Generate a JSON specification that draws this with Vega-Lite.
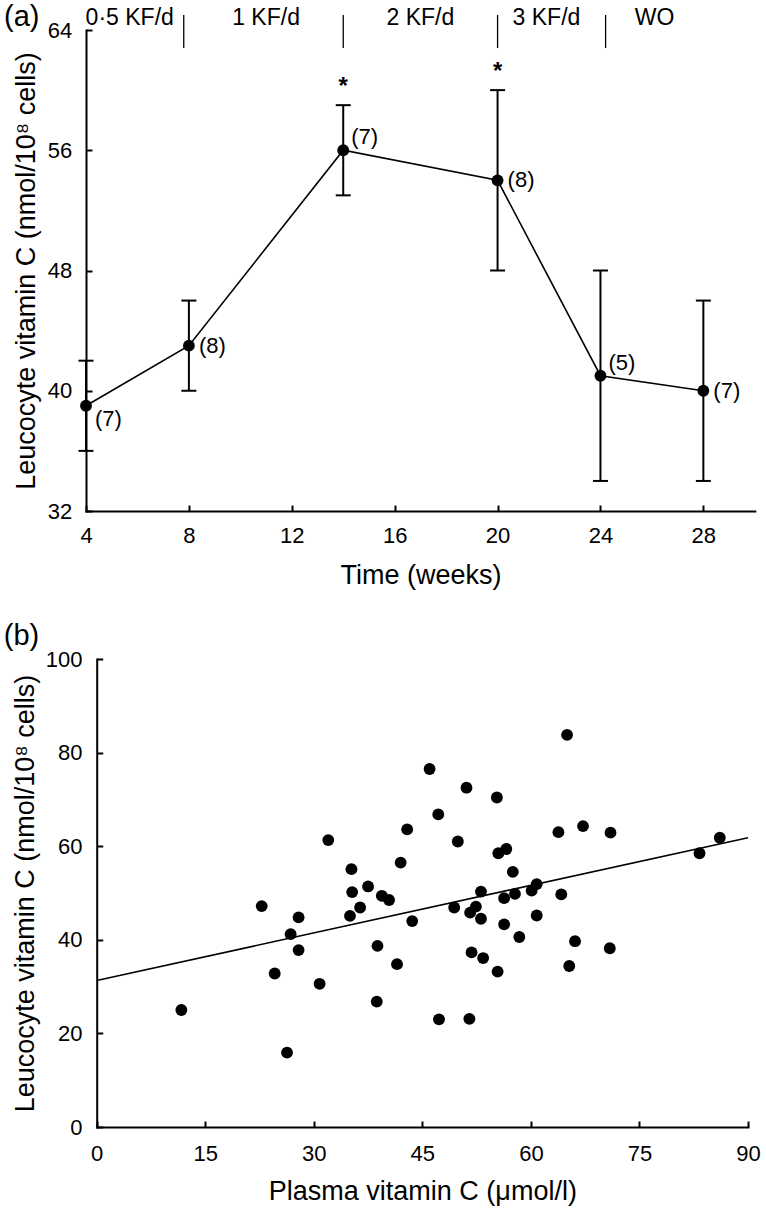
{
  "$schema": "https://vega.github.io/schema/vega-lite/v6.json",
  "width": 766,
  "height": 1213,
  "autosize": {"type": "none"},
  "padding": 0,
  "background": "white",
  "config": {
    "view": {"stroke": null},
    "font": "Liberation Sans",
    "axis": {
      "domainColor": "black", "domainWidth": 2, "domainCap": "square",
      "tickColor": "black", "tickWidth": 2, "tickSize": -6,
      "labelColor": "black", "titleColor": "black",
      "labelFont": "Liberation Sans", "titleFont": "Liberation Sans",
      "labelFontSize": 22, "titleFontSize": 27, "titleFontWeight": "normal",
      "grid": false, "labelOverlap": false, "labelFlush": false
    }
  },
  "datasets": {
    "weekly": [
      {"week": 4, "mean": 39, "lo": 36, "hi": 42, "n": "(7)", "sig": false},
      {"week": 8, "mean": 43, "lo": 40, "hi": 46, "n": "(8)", "sig": false},
      {"week": 14, "mean": 56, "lo": 53, "hi": 59, "n": "(7)", "sig": true},
      {"week": 20, "mean": 54, "lo": 48, "hi": 60, "n": "(8)", "sig": true},
      {"week": 24, "mean": 41, "lo": 34, "hi": 48, "n": "(5)", "sig": false},
      {"week": 28, "mean": 40, "lo": 34, "hi": 46, "n": "(7)", "sig": false}
    ],
    "phases": [
      {"mid": 5.7, "phase": "0·5 KF/d"},
      {"mid": 11.0, "phase": "1 KF/d"},
      {"mid": 17.0, "phase": "2 KF/d"},
      {"mid": 21.9, "phase": "3 KF/d"},
      {"mid": 26.1, "phase": "WO"}
    ],
    "dividers": [{"edge": 7.8}, {"edge": 14}, {"edge": 20}, {"edge": 24.2}],
    "scatter": [
      {"plasma": 11.7, "leuco": 25.0}, {"plasma": 26.3, "leuco": 15.9}, {"plasma": 22.8, "leuco": 47.2},
      {"plasma": 24.6, "leuco": 32.8}, {"plasma": 26.8, "leuco": 41.2}, {"plasma": 27.9, "leuco": 44.8},
      {"plasma": 27.9, "leuco": 37.8}, {"plasma": 30.8, "leuco": 30.6}, {"plasma": 32.0, "leuco": 61.3},
      {"plasma": 35.2, "leuco": 55.1}, {"plasma": 35.3, "leuco": 50.2}, {"plasma": 35.0, "leuco": 45.1},
      {"plasma": 36.4, "leuco": 46.9}, {"plasma": 37.5, "leuco": 51.4}, {"plasma": 38.8, "leuco": 38.7},
      {"plasma": 38.7, "leuco": 26.8}, {"plasma": 39.4, "leuco": 49.4}, {"plasma": 40.4, "leuco": 48.5},
      {"plasma": 41.5, "leuco": 34.8}, {"plasma": 42.0, "leuco": 56.5}, {"plasma": 42.9, "leuco": 63.6},
      {"plasma": 43.6, "leuco": 44.0}, {"plasma": 65.0, "leuco": 83.8}, {"plasma": 46.0, "leuco": 76.5},
      {"plasma": 51.1, "leuco": 72.5}, {"plasma": 55.3, "leuco": 70.4}, {"plasma": 47.2, "leuco": 66.8},
      {"plasma": 49.9, "leuco": 61.0}, {"plasma": 63.8, "leuco": 63.0}, {"plasma": 67.2, "leuco": 64.3},
      {"plasma": 71.0, "leuco": 62.9}, {"plasma": 86.1, "leuco": 61.8}, {"plasma": 83.3, "leuco": 58.5},
      {"plasma": 55.5, "leuco": 58.5}, {"plasma": 56.6, "leuco": 59.4}, {"plasma": 57.5, "leuco": 54.5},
      {"plasma": 53.1, "leuco": 50.3}, {"plasma": 56.3, "leuco": 48.9}, {"plasma": 57.8, "leuco": 49.8},
      {"plasma": 60.1, "leuco": 50.5}, {"plasma": 60.8, "leuco": 51.9}, {"plasma": 64.2, "leuco": 49.7},
      {"plasma": 49.4, "leuco": 46.9}, {"plasma": 52.4, "leuco": 47.1}, {"plasma": 51.6, "leuco": 45.8},
      {"plasma": 53.1, "leuco": 44.5}, {"plasma": 60.8, "leuco": 45.2}, {"plasma": 56.3, "leuco": 43.3},
      {"plasma": 58.4, "leuco": 40.6}, {"plasma": 66.1, "leuco": 39.7}, {"plasma": 70.9, "leuco": 38.2},
      {"plasma": 51.8, "leuco": 37.3}, {"plasma": 53.4, "leuco": 36.1}, {"plasma": 55.4, "leuco": 33.2},
      {"plasma": 65.3, "leuco": 34.4}, {"plasma": 47.3, "leuco": 23.0}, {"plasma": 51.5, "leuco": 23.1}
    ],
    "fitline": [{"plasma": 0, "fit": 31.3}, {"plasma": 90, "fit": 61.8}]
  },
  "layer": [
    {
      "layer": [
        {
          "data": {"name": "weekly"},
          "mark": {"type": "rule", "color": "black", "strokeWidth": 2},
          "encoding": {
            "x": {"field": "week", "type": "quantitative",
              "scale": {"domain": [4, 30], "range": [86, 754.8], "nice": false, "zero": false},
              "axis": {"orient": "bottom", "offset": -702, "values": [4, 8, 12, 16, 20, 24, 28],
                "title": "Time (weeks)", "labelPadding": 20, "titlePadding": 16}},
            "y": {"field": "lo", "type": "quantitative",
              "scale": {"domain": [32, 64], "range": [511, 30], "nice": false, "zero": false},
              "axis": {"orient": "left", "offset": -86, "values": [32, 40, 48, 56, 64],
                "title": "Leucocyte vitamin C (nmol/10⁸ cells)", "labelPadding": 20.3, "titlePadding": 7}},
            "y2": {"field": "hi"}
          }
        },
        {
          "data": {"name": "weekly"},
          "mark": {"type": "tick", "orient": "horizontal", "color": "black", "size": 15, "thickness": 2, "opacity": 1},
          "encoding": {
            "x": {"field": "week", "type": "quantitative"},
            "y": {"field": "lo", "type": "quantitative"}
          }
        },
        {
          "data": {"name": "weekly"},
          "mark": {"type": "tick", "orient": "horizontal", "color": "black", "size": 15, "thickness": 2, "opacity": 1},
          "encoding": {
            "x": {"field": "week", "type": "quantitative"},
            "y": {"field": "hi", "type": "quantitative"}
          }
        },
        {
          "data": {"name": "weekly"},
          "mark": {"type": "line", "color": "black", "strokeWidth": 1.6},
          "encoding": {
            "x": {"field": "week", "type": "quantitative"},
            "y": {"field": "mean", "type": "quantitative"}
          }
        },
        {
          "data": {"name": "weekly"},
          "mark": {"type": "circle", "color": "black", "size": 140, "opacity": 1},
          "encoding": {
            "x": {"field": "week", "type": "quantitative"},
            "y": {"field": "mean", "type": "quantitative"}
          }
        },
        {
          "data": {"name": "weekly"},
          "transform": [{"filter": "datum.week == 8 || datum.week == 20 || datum.week == 28"}],
          "mark": {"type": "text", "font": "Liberation Sans", "fontSize": 22, "align": "left", "baseline": "middle", "dx": 10, "color": "black"},
          "encoding": {
            "x": {"field": "week", "type": "quantitative"},
            "y": {"field": "mean", "type": "quantitative"},
            "text": {"field": "n"}
          }
        },
        {
          "data": {"name": "weekly"},
          "transform": [{"filter": "datum.week == 14 || datum.week == 24"}],
          "mark": {"type": "text", "font": "Liberation Sans", "fontSize": 22, "align": "left", "baseline": "middle", "dx": 8, "dy": -13, "color": "black"},
          "encoding": {
            "x": {"field": "week", "type": "quantitative"},
            "y": {"field": "mean", "type": "quantitative"},
            "text": {"field": "n"}
          }
        },
        {
          "data": {"name": "weekly"},
          "transform": [{"filter": "datum.week == 4"}],
          "mark": {"type": "text", "font": "Liberation Sans", "fontSize": 22, "align": "left", "baseline": "middle", "dx": 9, "dy": 13, "color": "black"},
          "encoding": {
            "x": {"field": "week", "type": "quantitative"},
            "y": {"field": "mean", "type": "quantitative"},
            "text": {"field": "n"}
          }
        },
        {
          "data": {"name": "weekly"},
          "transform": [{"filter": "datum.sig"}],
          "mark": {"type": "text", "font": "Liberation Sans", "fontSize": 24, "fontWeight": "bold", "align": "center", "baseline": "alphabetic", "dy": -11, "color": "black"},
          "encoding": {
            "x": {"field": "week", "type": "quantitative"},
            "y": {"field": "hi", "type": "quantitative"},
            "text": {"value": "*"}
          }
        },
        {
          "data": {"name": "dividers"},
          "mark": {"type": "rule", "color": "black", "strokeWidth": 1.3},
          "encoding": {
            "x": {"field": "edge", "type": "quantitative"},
            "y": {"datum": 62.8, "type": "quantitative"},
            "y2": {"datum": 65.0}
          }
        },
        {
          "data": {"name": "phases"},
          "mark": {"type": "text", "font": "Liberation Sans", "fontSize": 23, "align": "center", "baseline": "alphabetic", "color": "black"},
          "encoding": {
            "x": {"field": "mid", "type": "quantitative"},
            "y": {"datum": 64.3, "type": "quantitative"},
            "text": {"field": "phase"}
          }
        },
        {
          "data": {"values": [{"panel": "(a)"}]},
          "mark": {"type": "text", "font": "Liberation Sans", "fontSize": 29, "align": "center", "baseline": "alphabetic", "color": "black"},
          "encoding": {
            "x": {"datum": 1.5, "type": "quantitative"},
            "y": {"datum": 64.27, "type": "quantitative"},
            "text": {"field": "panel"}
          }
        }
      ]
    },
    {
      "layer": [
        {
          "data": {"name": "scatter"},
          "mark": {"type": "circle", "color": "black", "size": 140, "opacity": 1},
          "encoding": {
            "x": {"field": "plasma", "type": "quantitative",
              "scale": {"domain": [0, 90], "range": [96.7, 748], "nice": false, "zero": false},
              "axis": {"orient": "bottom", "offset": -86, "values": [0, 15, 30, 45, 60, 75, 90],
                "title": "Plasma vitamin C (μmol/l)", "labelPadding": 22, "titlePadding": 14}},
            "y": {"field": "leuco", "type": "quantitative",
              "scale": {"domain": [0, 100], "range": [1127, 659], "nice": false, "zero": false},
              "axis": {"orient": "left", "offset": -96.7, "values": [0, 20, 40, 60, 80, 100],
                "title": "Leucocyte vitamin C (nmol/10⁸ cells)", "labelPadding": 20.7, "titlePadding": 6}}
          }
        },
        {
          "data": {"name": "fitline"},
          "mark": {"type": "line", "color": "black", "strokeWidth": 1.6},
          "encoding": {
            "x": {"field": "plasma", "type": "quantitative"},
            "y": {"field": "fit", "type": "quantitative"}
          }
        },
        {
          "data": {"values": [{"panel": "(b)"}]},
          "mark": {"type": "text", "font": "Liberation Sans", "fontSize": 29, "align": "center", "baseline": "alphabetic", "color": "black"},
          "encoding": {
            "x": {"datum": -10.4, "type": "quantitative"},
            "y": {"datum": 103.06, "type": "quantitative"},
            "text": {"field": "panel"}
          }
        }
      ]
    }
  ],
  "resolve": {
    "scale": {"x": "independent", "y": "independent"},
    "axis": {"x": "independent", "y": "independent"}
  }
}
